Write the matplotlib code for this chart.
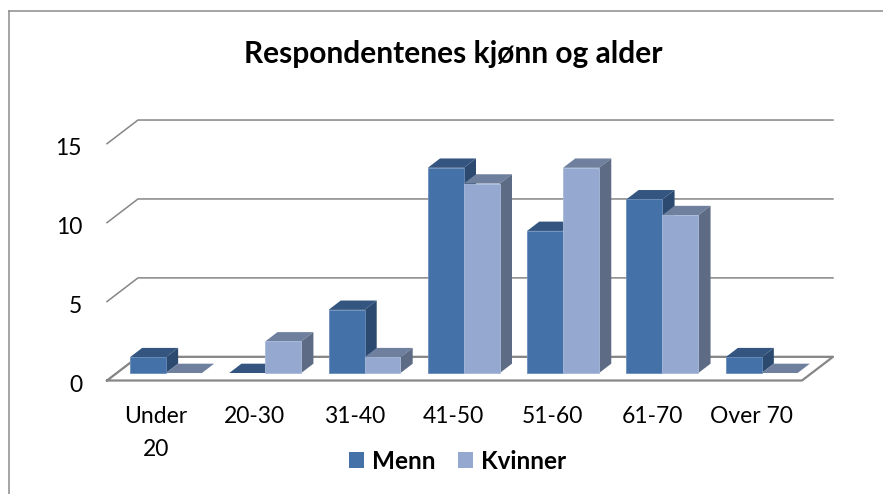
import matplotlib
matplotlib.use('Agg')
import matplotlib.pyplot as plt
from matplotlib.lines import Line2D
from matplotlib.patches import Patch, Polygon
from matplotlib.transforms import ScaledTranslation

plt.rcParams['font.family'] = ['Lato', 'DejaVu Sans']

# Data
CATEGORIES = ['Under\n20', '20-30', '31-40', '41-50', '51-60', '61-70', 'Over 70']
MENN = [1, 0, 4, 13, 9, 11, 1]
KVINNER = [0, 2, 1, 12, 13, 10, 0]
Y_TICKS = [0, 5, 10, 15]

# Fake 3D: how far one full floor depth shifts things, in data units
DEPTH_X = 0.312
DEPTH_Y = 1.5
BAR_FRONT = 0.316  # depth where the bar fronts stand
BAR_BACK = 0.71    # depth where the bar backs end
BAR_WIDTH = 0.3625
CENTER = 0.495     # where the two bars of a group meet, before the depth shift

GRID_COLOR = '#868686'
COLORS = {
    'Menn': {'front': '#4472A8', 'top': '#33557F', 'side': '#2C4A70', 'edge': '#6A8DBB'},
    'Kvinner': {'front': '#95A9D0', 'top': '#6F809F', 'side': '#5D6B85', 'edge': '#A8B9DA'},
}


def shift(x, y, depth):
    return x + DEPTH_X * depth, y + DEPTH_Y * depth


def draw_bar(ax, left, value, colors, z):
    """Draws one bar: front through ax.bar, top and side as polygons."""
    x0, y0 = shift(left, 0, BAR_FRONT)
    x1 = x0 + BAR_WIDTH
    dx = DEPTH_X * (BAR_BACK - BAR_FRONT)
    dy = DEPTH_Y * (BAR_BACK - BAR_FRONT)

    top = [(x0, y0 + value), (x1, y0 + value), (x1 + dx, y0 + value + dy), (x0 + dx, y0 + value + dy)]
    ax.add_patch(Polygon(top, closed=True, facecolor=colors['top'], edgecolor='none', zorder=z, clip_on=False))
    if value > 0:
        side = [(x1, y0), (x1 + dx, y0 + dy), (x1 + dx, y0 + value + dy), (x1, y0 + value)]
        ax.add_patch(Polygon(side, closed=True, facecolor=colors['side'], edgecolor='none', zorder=z, clip_on=False))
        ax.bar(x0, value, BAR_WIDTH, bottom=y0, align='edge', color=colors['front'],
               edgecolor=colors['edge'], linewidth=0.6, zorder=z + 0.1)


fig = plt.figure(figsize=(8.83, 4.94), dpi=100)
ax = fig.add_axes([107 / 883, 1 - 380.5 / 494, 695 / 883, 236.8 / 494])
ax.set_xlim(0, len(CATEGORIES))
ax.set_ylim(0, 15)
ax.patch.set_visible(False)
for spine in ax.spines.values():
    spine.set_visible(False)

# Chart frame, only top and left fall inside the picture
fig.add_artist(Line2D([8.5 / 883, 8.5 / 883], [0, 1 - 11.5 / 494], color='#8C8C8C', lw=1.1))
fig.add_artist(Line2D([8.5 / 883, 1], [1 - 11.5 / 494, 1 - 11.5 / 494], color='#8C8C8C', lw=1.1))

# Walls and floor
n = len(CATEGORIES)
for tick in Y_TICKS:
    back_left = shift(0, tick, 1)
    back_right = shift(n, tick, 1)
    ax.plot([0, back_left[0], back_right[0]], [tick, back_left[1], back_right[1]],
            color=GRID_COLOR, lw=1.1, zorder=1, clip_on=False)
floor_x = [0, n, shift(n, 0, 1)[0], shift(0, 0, 1)[0], 0]
floor_y = [0, 0, DEPTH_Y, DEPTH_Y, 0]
ax.plot(floor_x, floor_y, color=GRID_COLOR, lw=1.6, zorder=1.5, clip_on=False)

# Bars, left to right so that each front covers the side before it
for i in range(n):
    left = i + CENTER - BAR_WIDTH
    draw_bar(ax, left, MENN[i], COLORS['Menn'], 2 + i * 2)
    draw_bar(ax, left + BAR_WIDTH, KVINNER[i], COLORS['Kvinner'], 3 + i * 2)

ax.set_xticks([i + 0.49 for i in range(n)])
ax.set_xticklabels(CATEGORIES, fontsize=16.5, linespacing=1.7)
ax.set_yticks(Y_TICKS)
ax.set_yticklabels([str(t) for t in Y_TICKS], fontsize=16.5)
ax.tick_params(axis='x', length=0, pad=18.5)
ax.tick_params(axis='y', length=0, pad=18)

# The y labels sit a little under their gridlines in the reference
label_offset = ScaledTranslation(0, -2 / 72, fig.dpi_scale_trans)
for label in ax.get_yticklabels():
    label.set_transform(label.get_transform() + label_offset)

fig.text(453 / 883, 1 - 54.5 / 494, 'Respondentenes kjønn og alder', fontsize=21.5,
         fontweight='bold', ha='center', va='center')

handles = [Patch(facecolor=COLORS['Menn']['front'], label='Menn'),
           Patch(facecolor=COLORS['Kvinner']['front'], label='Kvinner')]
fig.legend(handles=handles, loc='center', bbox_to_anchor=(457.5 / 883, 1 - 461 / 494), ncol=2,
           frameon=False, prop={'size': 17.5, 'weight': 'bold'}, handlelength=0.62,
           handleheight=0.62, handletextpad=0.3, columnspacing=0.95, borderpad=0)

fig.savefig('out.png', dpi=100)
